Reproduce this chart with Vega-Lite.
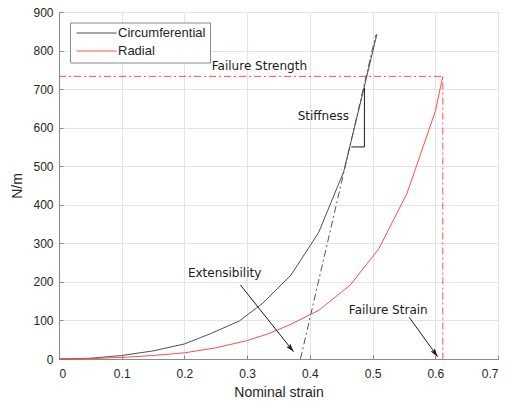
{
  "$schema": "https://vega.github.io/schema/vega-lite/v6.json",
  "width": 439,
  "height": 347,
  "autosize": {"type": "none"},
  "padding": {"left": 59, "top": 12, "right": 14, "bottom": 44},
  "background": "white",
  "config": {
    "view": {"stroke": "#8a8a8a", "strokeWidth": 1},
    "axis": {
      "grid": true,
      "gridColor": "#e4e4e4",
      "gridWidth": 1,
      "domainColor": "#8a8a8a",
      "tickColor": "#8a8a8a",
      "tickSize": -4,
      "labelFont": "Liberation Sans",
      "labelFontSize": 12,
      "labelColor": "#262626",
      "titleFont": "Liberation Sans",
      "titleFontSize": 14,
      "titleFontWeight": "normal",
      "titleColor": "#262626"
    }
  },
  "datasets": {
    "curves": [
      {"strain": 0.0, "load": 0, "series": "Circumferential"},
      {"strain": 0.05, "load": 2, "series": "Circumferential"},
      {"strain": 0.1, "load": 9, "series": "Circumferential"},
      {"strain": 0.15, "load": 21, "series": "Circumferential"},
      {"strain": 0.2, "load": 39, "series": "Circumferential"},
      {"strain": 0.242, "load": 66, "series": "Circumferential"},
      {"strain": 0.288, "load": 99, "series": "Circumferential"},
      {"strain": 0.325, "load": 145, "series": "Circumferential"},
      {"strain": 0.37, "load": 218, "series": "Circumferential"},
      {"strain": 0.414, "load": 328, "series": "Circumferential"},
      {"strain": 0.454, "load": 486, "series": "Circumferential"},
      {"strain": 0.48, "load": 660, "series": "Circumferential"},
      {"strain": 0.507, "load": 843, "series": "Circumferential"},
      {"strain": 0.0, "load": 0, "series": "Radial"},
      {"strain": 0.05, "load": 1, "series": "Radial"},
      {"strain": 0.1, "load": 4, "series": "Radial"},
      {"strain": 0.15, "load": 9, "series": "Radial"},
      {"strain": 0.2, "load": 16, "series": "Radial"},
      {"strain": 0.25, "load": 29, "series": "Radial"},
      {"strain": 0.298, "load": 47, "series": "Radial"},
      {"strain": 0.333, "load": 65, "series": "Radial"},
      {"strain": 0.367, "load": 88, "series": "Radial"},
      {"strain": 0.415, "load": 127, "series": "Radial"},
      {"strain": 0.4645, "load": 192, "series": "Radial"},
      {"strain": 0.51, "load": 286, "series": "Radial"},
      {"strain": 0.555, "load": 430, "series": "Radial"},
      {"strain": 0.6, "load": 642, "series": "Radial"},
      {"strain": 0.612, "load": 733, "series": "Radial"}
    ],
    "failure": [
      {"strain": 0.0, "load": 733, "step": 1},
      {"strain": 0.612, "load": 733, "step": 2},
      {"strain": 0.612, "load": 0, "step": 3}
    ],
    "tangent": [
      {"strain": 0.385, "load": 0, "step": 1},
      {"strain": 0.505, "load": 840, "step": 2}
    ],
    "triangle": [
      {"strain": 0.466, "load": 550, "step": 1},
      {"strain": 0.487, "load": 550, "step": 2},
      {"strain": 0.487, "load": 703, "step": 3}
    ],
    "labels": [
      {"label": "Failure Strength", "strain": 0.3195, "load": 760},
      {"label": "Stiffness", "strain": 0.4215, "load": 631},
      {"label": "Extensibility", "strain": 0.264, "load": 222},
      {"label": "Failure Strain", "strain": 0.525, "load": 126}
    ]
  },
  "encoding": {
    "x": {
      "field": "strain",
      "type": "quantitative",
      "scale": {"domain": [0, 0.7], "nice": false, "zero": false},
      "axis": {"title": "Nominal strain", "values": [0, 0.1, 0.2, 0.3, 0.4, 0.5, 0.6, 0.7], "format": "~g", "labelPadding": 13, "titlePadding": 6}
    },
    "y": {
      "field": "load",
      "type": "quantitative",
      "scale": {"domain": [0, 900], "nice": false},
      "axis": {"title": "N/m", "values": [0, 100, 200, 300, 400, 500, 600, 700, 800, 900], "labelPadding": 10, "titlePadding": 8}
    }
  },
  "layer": [
    {
      "data": {"name": "failure"},
      "mark": {"type": "line", "color": "#ff4d4d", "strokeWidth": 1, "strokeDash": [7, 3, 2, 3]},
      "encoding": {"order": {"field": "step"}}
    },
    {
      "data": {"name": "tangent"},
      "mark": {"type": "line", "color": "#555555", "strokeWidth": 1, "strokeDash": [7, 3, 2, 3]},
      "encoding": {"order": {"field": "step"}}
    },
    {
      "data": {"name": "curves"},
      "mark": {"type": "line", "strokeWidth": 1},
      "encoding": {
        "color": {
          "field": "series",
          "type": "nominal",
          "scale": {"domain": ["Circumferential", "Radial"], "range": ["#505050", "#ff4d4d"]},
          "legend": {
            "title": null,
            "orient": "none",
            "legendX": 11,
            "legendY": 10.5,
            "symbolType": "M-1,0H9",
            "symbolSize": 64,
            "symbolStrokeWidth": 1,
            "labelFont": "Liberation Sans",
            "labelFontSize": 13,
            "labelColor": "#262626",
            "fillColor": "white",
            "strokeColor": "#8a8a8a",
            "padding": 4,
            "rowPadding": 4,
            "labelOffset": 31
          }
        },
        "order": {"field": "strain"}
      }
    },
    {
      "data": {"name": "triangle"},
      "mark": {"type": "line", "color": "#1a1a1a", "strokeWidth": 1},
      "encoding": {"order": {"field": "step"}}
    },
    {
      "data": {"values": [{"strain": 0.2893, "load": 192, "strain_end": 0.374, "load_end": 19}]},
      "mark": {"type": "rule", "color": "#1a1a1a", "strokeWidth": 1},
      "encoding": {"x2": {"field": "strain_end"}, "y2": {"field": "load_end"}}
    },
    {
      "data": {"values": [{"strain": 0.374, "load": 19}]},
      "mark": {"type": "point", "shape": "M0,0L-0.55,1.8L0,1.4L0.55,1.8Z", "size": 90, "filled": true, "color": "#1a1a1a", "opacity": 1, "angle": 141}
    },
    {
      "data": {"values": [{"strain": 0.5585, "load": 108, "strain_end": 0.6037, "load_end": 6}]},
      "mark": {"type": "rule", "color": "#1a1a1a", "strokeWidth": 1},
      "encoding": {"x2": {"field": "strain_end"}, "y2": {"field": "load_end"}}
    },
    {
      "data": {"values": [{"strain": 0.6037, "load": 6}]},
      "mark": {"type": "point", "shape": "M0,0L-0.55,1.8L0,1.4L0.55,1.8Z", "size": 90, "filled": true, "color": "#1a1a1a", "opacity": 1, "angle": 144}
    },
    {
      "data": {"name": "labels"},
      "mark": {"type": "text", "font": "DejaVu Sans", "fontSize": 12, "color": "#1a1a1a", "align": "center", "baseline": "middle"},
      "encoding": {"text": {"field": "label"}}
    }
  ]
}
